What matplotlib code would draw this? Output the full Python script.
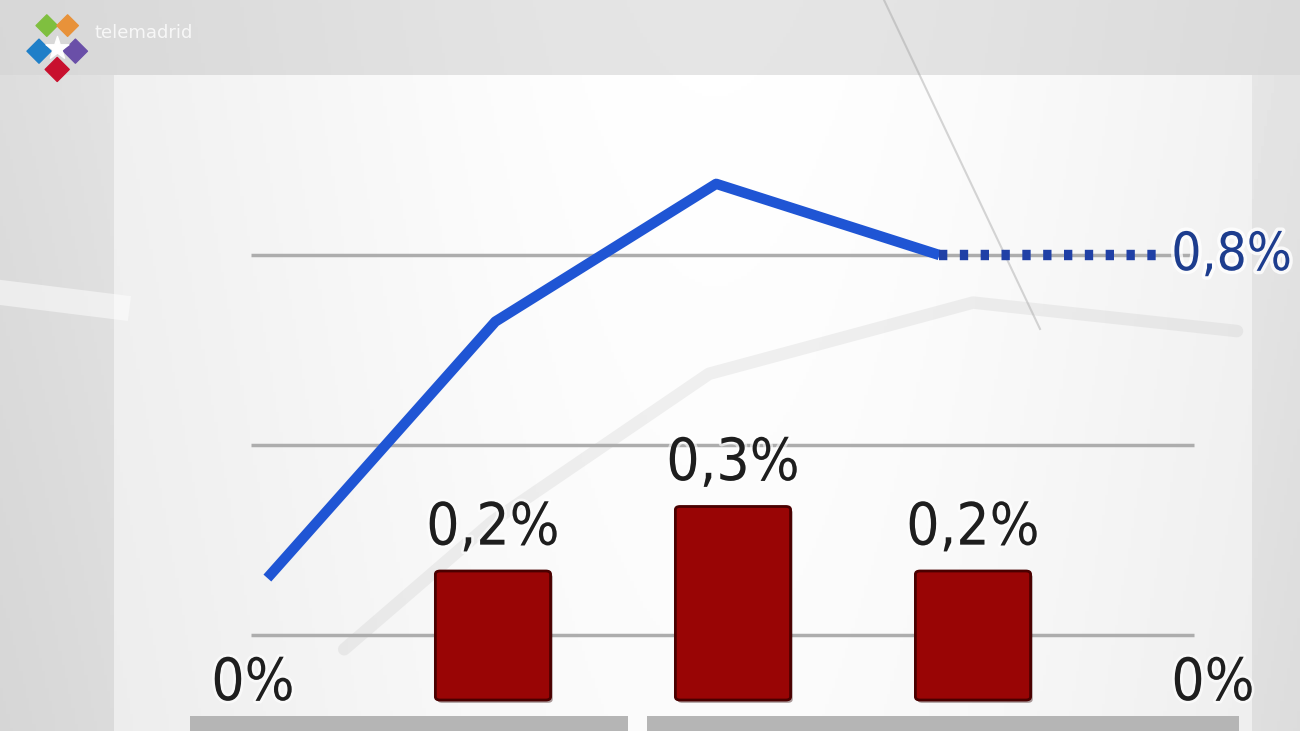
import matplotlib.pyplot as plt
import matplotlib.patheffects as pe
import numpy as np
from matplotlib.patches import Rectangle, FancyBboxPatch

# monthly bars (red) and the blue line
bar_labels = ["0%", "0,2%", "0,3%", "0,2%", "0%"]
bar_values = [0.0, 0.2, 0.3, 0.2, 0.0]
bar_pos    = [0, 1, 2, 3, 4]

line_pos    = [0.06, 1.01, 1.93, 2.86, 3.78]
line_values = [0.12, 0.66, 0.95, 0.80, 0.80]
line_label  = "0,8%"

grid_values = [0.0, 0.4, 0.8]

# faint reflection of an older line in the background
ghost_pos    = [0.38, 1.0, 1.9, 3.0, 4.1]
ghost_values = [-0.03, 0.24, 0.55, 0.70, 0.64]

plt.rcParams["font.family"] = ["DejaVu Sans"]
stretch = "condensed"

fig = plt.figure(figsize=(13, 7.31), dpi=100)

# background
bg = fig.add_axes([0, 0, 1, 1])
bg.set_xlim(0, 1)
bg.set_ylim(0, 1)
bg.axis("off")
xx = np.linspace(0, 1, 400)
yy = np.linspace(0, 1, 220)
X, Y = np.meshgrid(xx, yy)
shade = 0.80 + 0.17 * np.exp(-((X - 0.55) / 0.45) ** 2) + 0.03 * Y
bg.imshow(np.clip(shade, 0, 1), cmap="gray", vmin=0, vmax=1, extent=(0, 1, 0, 1),
          origin="lower", aspect="auto", zorder=0)
bg.add_patch(Rectangle((0.088, 0.0), 0.875, 0.897, color="white", alpha=0.5, lw=0, zorder=1))
bg.add_patch(Rectangle((0.0, 0.897), 1.0, 0.103, color="#d4d4d4", alpha=0.6, lw=0, zorder=1))
bg.plot([0.0, 0.09], [0.60, 0.58], color="white", lw=18, alpha=0.5, zorder=1)
bg.plot([0.68, 0.80], [1.0, 0.55], color="#9a9a9a", lw=1.5, alpha=0.4, zorder=1)
bg.add_patch(Rectangle((0.146, 0.0), 0.337, 0.02, color="#b5b5b5", lw=0, zorder=2))
bg.add_patch(Rectangle((0.498, 0.0), 0.455, 0.02, color="#b5b5b5", lw=0, zorder=2))

# logo
bg.scatter([0.036, 0.052, 0.030, 0.058, 0.044], [0.965, 0.965, 0.93, 0.93, 0.905],
           marker="D", s=[120, 120, 150, 150, 150],
           c=["#7fbf3f", "#e8923a", "#1f7fc8", "#6a4fa8", "#c8102e"], zorder=3)
bg.scatter([0.044], [0.935], marker="*", s=300, c="white", zorder=4)
bg.text(0.073, 0.955, "telemadrid", fontsize=13, color="white", alpha=0.8,
        va="center", ha="left", zorder=3)

# data axes
ax = fig.add_axes([0, 0, 1, 1])
ax.set_xlim(-1.054, 4.3625)
ax.set_ylim(-0.048, 1.085)
ax.axis("off")

ax2 = ax.twinx()
ax2.set_ylim(-0.202, 1.337)
ax2.axis("off")
# bars go on top of the grid
ax.set_zorder(ax2.get_zorder() + 1)
ax.patch.set_visible(False)
ax2.patch.set_visible(False)

ax2.hlines(grid_values, -0.01, 3.92, color="#adadad", lw=2.5, zorder=2)
ax2.plot(ghost_pos, ghost_values, color="#b0b0b0", lw=9, alpha=0.18, zorder=1,
         solid_capstyle="round")

bars = ax.bar(bar_pos, bar_values, width=0.48, zorder=3)
for b in bars:
    b.set_visible(False)
    if b.get_height() > 0:
        ax.add_patch(FancyBboxPatch((b.get_x(), b.get_y()), b.get_width(), b.get_height(),
                                    boxstyle="round,pad=0,rounding_size=0.02",
                                    mutation_aspect=0.25, fc="#990505", ec="#4a0000", lw=2,
                                    zorder=3,
                                    path_effects=[pe.SimplePatchShadow(offset=(1.5, -2),
                                                                       alpha=0.4),
                                                  pe.Normal()]))

for x, v, lab in zip(bar_pos, bar_values, bar_labels):
    off = 19 if v > 0 else 0
    ax.annotate(lab, (x, v), xytext=(0, off), textcoords="offset points",
                ha="center", va="baseline", fontsize=42, fontstretch=stretch,
                color="#1e1e1e", zorder=5,
                path_effects=[pe.withStroke(linewidth=4, foreground="white", alpha=0.6)])

ax2.plot(line_pos[:4], line_values[:4], color="#1f55d4", lw=7.5, zorder=4,
         solid_capstyle="butt", solid_joinstyle="round")
ax2.plot(line_pos[3:], line_values[3:], color="#2040a6", lw=7.5, zorder=4,
         linestyle=(0, (0.8, 1.2)), dash_capstyle="butt")
ax2.annotate(line_label, (line_pos[-1], line_values[-1]), xytext=(8, 0),
             textcoords="offset points", ha="left", va="center", fontsize=38,
             fontstretch=stretch, color="#1d3d8e", zorder=5,
             path_effects=[pe.withStroke(linewidth=5, foreground="white", alpha=0.8)])

fig.savefig("out.png", dpi=100)
